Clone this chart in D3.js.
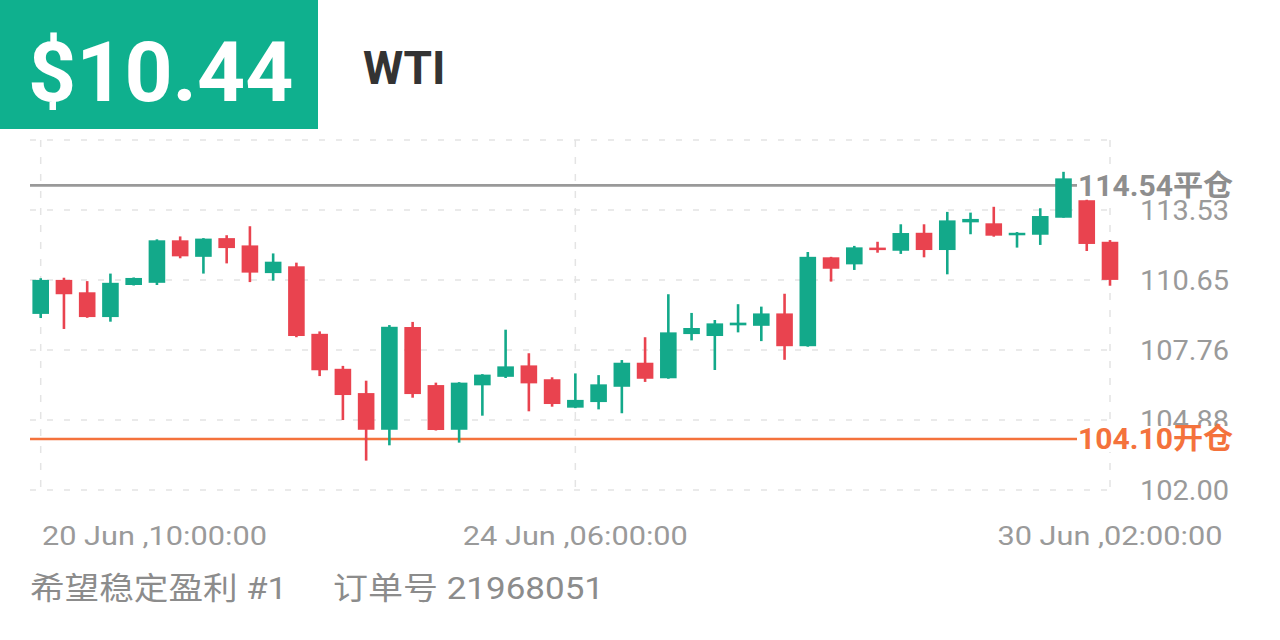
<!DOCTYPE html>
<html><head><meta charset="utf-8">
<script src="https://cdn.jsdelivr.net/npm/d3@7"></script>
<style>body{margin:0;background:#fff;} svg{display:block}</style>
</head><body><svg id="c" width="1280" height="640"></svg>
<script>
// 4-hour candles, WTI
const opens  = [109.25,110.65,110.14,109.12,110.44,110.53,112.28,111.60,112.37,112.07,110.93,111.21,108.43,106.99,105.99,104.48,108.71,106.32,104.48,106.31,106.66,107.13,106.56,105.39,105.62,106.25,107.24,106.60,108.42,108.34,108.78,108.76,109.27,107.92,111.58,111.29,111.98,111.85,112.59,111.88,113.02,112.98,112.49,112.51,113.21,113.93,112.22];
const closes = [110.65,110.06,109.12,110.53,110.73,112.28,111.62,112.35,111.96,110.95,111.40,108.34,106.93,105.91,104.48,108.72,105.95,104.47,106.42,106.75,107.09,106.39,105.54,105.71,106.35,107.24,106.58,108.49,108.67,108.86,108.89,109.27,107.92,111.60,111.11,111.99,111.88,112.58,111.88,113.10,113.16,112.47,112.59,113.28,114.83,112.13,110.65];
const highs  = [110.72,110.74,110.60,110.91,110.75,112.32,112.44,112.37,112.49,112.86,111.74,111.36,108.53,107.11,106.50,108.79,108.92,106.42,106.44,106.77,108.60,107.63,106.64,106.80,106.73,107.35,108.29,110.06,109.29,109.00,109.65,109.55,110.08,111.80,111.60,112.05,112.22,112.94,112.94,113.45,113.42,113.66,112.62,113.60,115.10,113.95,112.29];
const lows   = [109.08,108.63,109.09,108.93,110.42,110.44,111.54,110.91,111.33,110.56,110.62,108.29,106.69,104.88,103.21,103.84,105.80,104.45,103.95,105.06,106.61,105.24,105.43,105.37,105.32,105.16,106.45,106.58,108.16,106.94,108.49,108.13,107.36,107.90,110.58,111.06,111.77,111.72,111.58,110.88,112.53,112.43,111.98,112.09,113.21,111.84,110.41];

const yTickValues = [102.00, 104.88, 107.76, 110.65, 113.53];
const yTickLabels = ["102.00", "104.88", "107.76", "110.65", "113.53"];
const yTopGrid = 116.41;
const xTickIndex = [0, 23, 46];
const xTickLabels = ["20 Jun ,10:00:00", "24 Jun ,06:00:00", "30 Jun ,02:00:00"];

const closePrice = 114.54, closeLabel = "114.54平仓";
const openPrice = 104.10, openLabel = "104.10开仓";
const headline = "$10.44", symbol = "WTI";
const footerLeft = "希望稳定盈利 #1", footerRight = "订单号 21968051";

const UP = "#13a98a", DOWN = "#e9434f";
const svg = d3.select("#c");
const idx = d3.range(opens.length);
const x = d3.scalePoint().domain(idx).range([40.7, 1110]);
const y = d3.scaleLinear().domain([102, 116.41]).range([490, 140]);

// header
svg.append("rect").attr("x",0).attr("y",0).attr("width",318).attr("height",129).attr("fill","#0fb08e");
svg.append("text").attr("x",28).attr("y",101).attr("fill","#fff")
  .attr("font-family","Roboto, sans-serif").attr("font-weight",700).attr("font-size",84).text(headline);
svg.append("text").attr("x",363).attr("y",84).attr("fill","#333")
  .attr("font-family","Roboto, sans-serif").attr("font-weight",700).attr("font-size",46).text(symbol);

// grid
const grid = svg.append("g").attr("stroke","#e4e4e4").attr("stroke-width",1.5).attr("stroke-dasharray","6,11");
grid.selectAll("line.h").data(yTickValues.concat([yTopGrid])).join("line").attr("class","h")
  .attr("x1",30).attr("x2",1112).attr("y1",d=>y(d)).attr("y2",d=>y(d));
grid.selectAll("line.v").data(xTickIndex).join("line").attr("class","v")
  .attr("x1",d=>x(d)).attr("x2",d=>x(d)).attr("y1",y(yTopGrid)).attr("y2",y(102))
  .attr("stroke-dasharray","7,10");

// y tick labels
svg.append("g").selectAll("text").data(yTickValues).join("text")
  .attr("x",1229).attr("y",d=>y(d)).attr("dy","0.36em").attr("text-anchor","end")
  .attr("font-family","Roboto, sans-serif").attr("font-size",28).attr("fill","#9a9a9a")
  .attr("textLength",89).attr("lengthAdjust","spacingAndGlyphs")
  .text((d,i)=>yTickLabels[i]);

// x tick labels
svg.append("g").selectAll("text").data(xTickIndex).join("text")
  .attr("x",(d,i)=> i===0 ? 42 : x(d)).attr("y",545)
  .attr("text-anchor",(d,i)=> i===0 ? "start" : "middle")
  .attr("font-family","Roboto, sans-serif").attr("font-size",26).attr("fill","#9a9a9a")
  .attr("textLength",225).attr("lengthAdjust","spacingAndGlyphs")
  .text((d,i)=>xTickLabels[i]);

// price lines
const levels = [
  {v: closePrice, label: closeLabel, color: "#999999", text: "#8e8e8e"},
  {v: openPrice, label: openLabel, color: "#f4723c", text: "#f4723c"}
];
svg.append("g").selectAll("line").data(levels).join("line")
  .attr("x1",30).attr("x2",1077).attr("y1",d=>y(d.v)).attr("y2",d=>y(d.v))
  .attr("stroke",d=>d.color).attr("stroke-width",2.6);

// candles
const c = svg.append("g");
c.selectAll("line").data(idx).join("line")
  .attr("x1",i=>x(i)).attr("x2",i=>x(i)).attr("y1",i=>y(highs[i])).attr("y2",i=>y(lows[i]))
  .attr("stroke",i=>closes[i]>=opens[i]?UP:DOWN).attr("stroke-width",2.6);
c.selectAll("rect").data(idx).join("rect")
  .attr("x",i=>x(i)-8.3).attr("width",16.6)
  .attr("y",i=>y(Math.max(opens[i],closes[i])))
  .attr("height",i=>Math.max(2.5, Math.abs(y(opens[i])-y(closes[i]))))
  .attr("fill",i=>closes[i]>=opens[i]?UP:DOWN);

// level labels
const lg = svg.append("g").selectAll("g").data(levels).join("g");
lg.append("rect").attr("x",1077).attr("y",d=>y(d.v)-13).attr("width",165).attr("height",26).attr("fill","#fff");
lg.append("text").attr("x",1078).attr("y",d=>y(d.v)).attr("dy","0.36em")
  .attr("font-family","Roboto, 'Noto Sans CJK SC', sans-serif").attr("font-weight",700).attr("font-size",29)
  .attr("textLength",155).attr("lengthAdjust","spacingAndGlyphs")
  .attr("fill",d=>d.text).text(d=>d.label);

// footer
const ff = "Roboto, 'Noto Sans CJK SC', sans-serif";
svg.append("text").attr("x",30).attr("y",599).attr("font-family",ff).attr("font-size",31).attr("fill","#8c8c8c")
  .attr("textLength",257).attr("lengthAdjust","spacingAndGlyphs").text(footerLeft);
svg.append("text").attr("x",333).attr("y",599).attr("font-family",ff).attr("font-size",31).attr("fill","#8c8c8c")
  .attr("textLength",271).attr("lengthAdjust","spacingAndGlyphs").text(footerRight);
</script></body></html>
